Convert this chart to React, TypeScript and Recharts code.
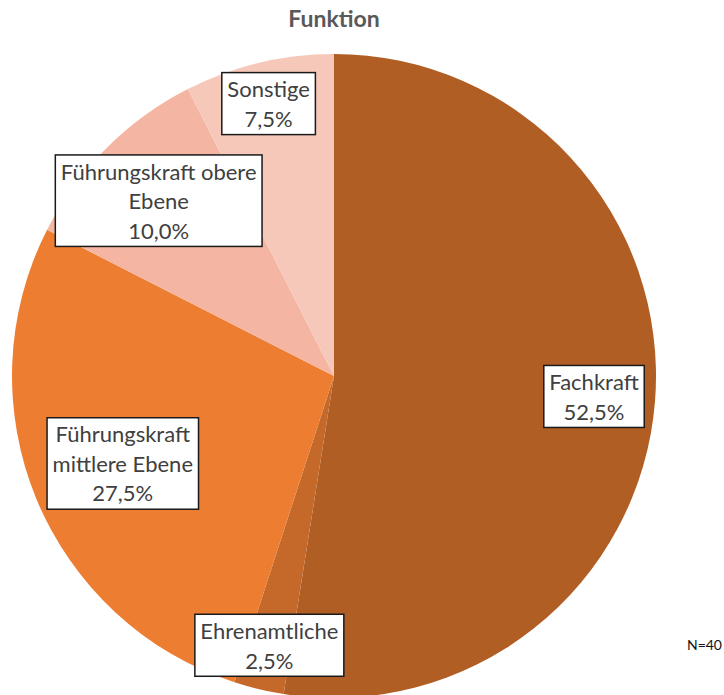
import React from "react";
import { PieChart, Pie, Cell } from "recharts";

// counts out of N=40, clockwise from 12 o'clock
const categories = ["Fachkraft", "Ehrenamtliche", "Führungskraft\nmittlere Ebene", "Führungskraft obere\nEbene", "Sonstige"];
const counts = [21, 1, 11, 4, 3];
const colors = ["#B15E24", "#C5692B", "#ED7D31", "#F4B6A2", "#F6C8BA"];
const total = 40;

const data = categories.map((name, i) => ({ name, value: counts[i] }));

// how far out (share of the radius) each label box sits along its slice middle
const LABEL_R = [0.81, 0.86, 0.71, 0.77, 0.87];

const FONT = "22px Lato";
const LINE_H = 29.5;

let ctx: CanvasRenderingContext2D | null = null;
function textWidth(s: string) {
  if (!ctx) ctx = document.createElement("canvas").getContext("2d");
  if (!ctx) return s.length * 10;
  ctx.font = FONT;
  return ctx.measureText(s).width;
}

const fmt = (v: number) => ((v / total) * 100).toFixed(1).replace(".", ",") + "%";

function BoxLabel(props: any) {
  const { cx, cy, midAngle, outerRadius, index, value, name } = props;
  const r = outerRadius * LABEL_R[index];
  const rad = (-midAngle * Math.PI) / 180;
  const x = cx + Math.cos(rad) * r;
  const y = cy + Math.sin(rad) * r;
  const lines = [...String(name).split("\n"), fmt(value)];
  const w = Math.max(...lines.map(textWidth)) + 11;
  const h = lines.length * LINE_H + 3;
  return (
    <g>
      <rect x={x - w / 2} y={y - h / 2} width={w} height={h} fill="#fff" stroke="#1a1a1a" strokeWidth={1.5} />
      {lines.map((l, i) => (
        <text
          key={i}
          x={x}
          y={y + (i - (lines.length - 1) / 2) * LINE_H}
          textAnchor="middle"
          dominantBaseline="central"
          fill="#404040"
          style={{ font: FONT }}
        >
          {l}
        </text>
      ))}
    </g>
  );
}

export default function App() {
  return (
    <div style={{ position: "absolute", left: 0, top: 0, width: 724, height: 695, background: "#fff", overflow: "hidden" }}>
      <div
        style={{
          position: "absolute",
          left: 0,
          width: 668,
          top: 4,
          textAlign: "center",
          fontFamily: "Lato",
          fontWeight: 700,
          fontSize: 23,
          color: "#595959",
        }}
      >
        Funktion
      </div>
      <div style={{ position: "absolute", right: 2, top: 636, fontFamily: "Lato", fontSize: 14, color: "#111" }}>N=40</div>
      <PieChart width={724} height={695} margin={{ top: 0, right: 0, bottom: 0, left: 0 }}>
        <Pie
          data={data}
          dataKey="value"
          nameKey="name"
          cx={334}
          cy={376}
          outerRadius={322}
          startAngle={90}
          endAngle={-270}
          stroke="none"
          labelLine={false}
          label={BoxLabel}
          isAnimationActive={false}
        >
          {data.map((d, i) => (
            <Cell key={d.name} fill={colors[i]} />
          ))}
        </Pie>
      </PieChart>
    </div>
  );
}
